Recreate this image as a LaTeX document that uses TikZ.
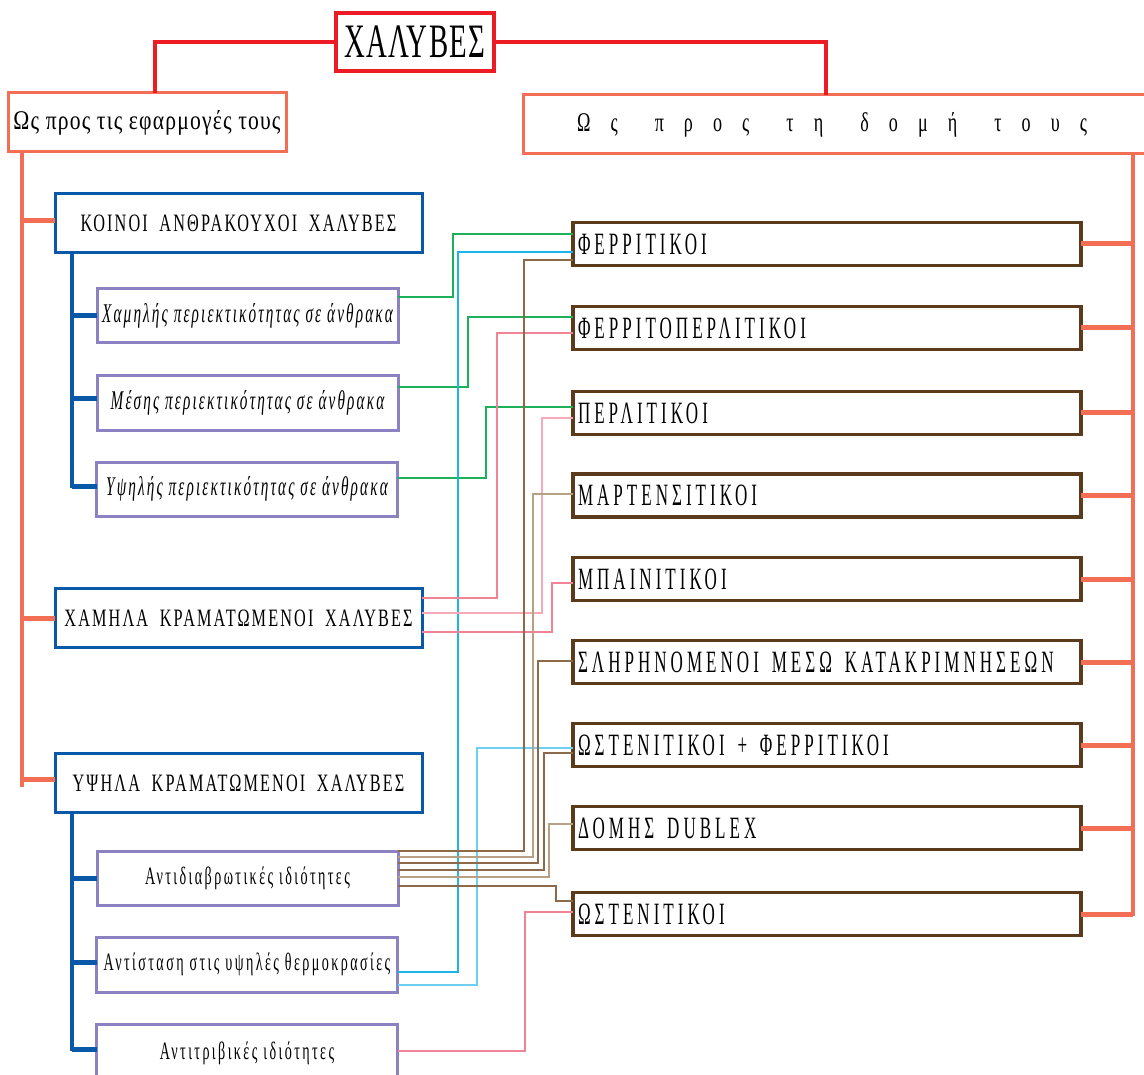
\documentclass[tikz,border=0pt]{standalone}
\usepackage{fontspec}
\setmainfont{Liberation Serif}
\usepackage{graphicx}
% size, horizontal scale, letter spacing, extra word gap (pt), text
\newcommand\tx[5]{\scalebox{#2}[1]{\fontsize{#1}{#1}\selectfont\addfontfeature{LetterSpace=#3}\def\g{\kern#4pt\ }#5}}
\newcommand\txi[5]{\scalebox{#2}[1]{\fontsize{#1}{#1}\selectfont\itshape\addfontfeature{LetterSpace=#3}\def\g{\kern#4pt\ }#5}}
\definecolor{redc}{HTML}{ED1C24}
\definecolor{salc}{HTML}{F26F55}
\definecolor{bluec}{HTML}{0A58A8}
\definecolor{purc}{HTML}{8C82C2}
\definecolor{brc}{HTML}{5C3A1C}
\definecolor{grn}{HTML}{1DB05A}
\definecolor{cya}{HTML}{1CB5EA}
\definecolor{cyl}{HTML}{6ECFF3}
\definecolor{pnk}{HTML}{F08494}
\definecolor{pnl}{HTML}{F6AAB8}
\definecolor{brn}{HTML}{8C6A4A}
\definecolor{tanc}{HTML}{B8A084}
\tikzset{
  base/.style={rectangle, inner sep=0pt, outer sep=0pt, fill=white},
  redbox/.style={base, draw=redc, line width=3.5pt},
  salbox/.style={base, draw=salc, line width=3pt},
  bluebox/.style={base, draw=bluec, line width=3pt, minimum width=367pt, minimum height=59pt},
  purbox/.style={base, draw=purc, line width=3pt, minimum width=301pt, minimum height=54pt},
  brbox/.style={base, draw=brc, line width=3.5pt,
    text width=498pt, align=left, inner xsep=5pt, minimum height=43pt},
  redline/.style={draw=redc, line width=4pt},
  salline/.style={draw=salc, line width=4pt, line cap=rect},
  salstub/.style={draw=salc, line width=5pt},
  blueline/.style={draw=bluec, line width=3.5pt, line cap=rect},
  bluestub/.style={draw=bluec, line width=5pt},
  conn/.style={line width=1.5pt},
}
\begin{document}
\begin{tikzpicture}[x=1pt,y=-1pt]
\useasboundingbox (0,0) rectangle (1144,1075);
\clip (0,0) rectangle (1144,1075);
% coordinates for bus lines
\coordinate (L) at (22,0);
\coordinate (R) at (1133,0);
\coordinate (B) at (72,0);
\coordinate (RT) at (826,0);
\coordinate (LT) at (155,0);
% top
\node[redbox, minimum width=158pt, minimum height=58pt] (root) at (415,42) {\tx{48}{0.6}{5}{0}{ΧΑΛΥΒΕΣ}};
\node[salbox, minimum width=278pt, minimum height=59pt] (app) at (147,122.5) {\tx{27}{0.8}{5.5}{0}{Ως προς τις εφαρμογές τους}};
\node[salbox, minimum height=59pt, text width=529pt, align=left, inner xsep=54pt] (str) at (841.5,124.5) {\tx{27}{0.67}{111}{52}{Ως\g προς\g τη\g δομή\g τους}};
% left column
\node[bluebox] (koi) at (238.5,223.5) {\tx{25}{0.65}{13}{8.5}{ΚΟΙΝΟΙ\g ΑΝΘΡΑΚΟΥΧΟΙ\g ΧΑΛΥΒΕΣ}};
\node[bluebox] (xam) at (238.5,618) {\tx{25}{0.65}{13}{8.5}{ΧΑΜΗΛΑ\g ΚΡΑΜΑΤΩΜΕΝΟΙ\g ΧΑΛΥΒΕΣ}};
\node[bluebox] (ysh) at (238.5,783) {\tx{25}{0.65}{13}{8.5}{ΥΨΗΛΑ\g ΚΡΑΜΑΤΩΜΕΝΟΙ\g ΧΑΛΥΒΕΣ}};
\node[purbox] (p1) at (247.5,316) {\txi{27}{0.565}{14}{0}{Χαμηλής περιεκτικότητας σε άνθρακα}};
\node[purbox] (p2) at (247.5,403) {\txi{27}{0.565}{14}{0}{Μέσης περιεκτικότητας σε άνθρακα}};
\node[purbox] (p3) at (247,489) {\txi{27}{0.565}{14}{0}{Υψηλής περιεκτικότητας σε άνθρακα}};
\node[purbox] (p4) at (247.5,878) {\tx{25}{0.565}{17}{0}{Αντιδιαβρωτικές ιδιότητες}};
\node[purbox, minimum height=55pt] (p5) at (247,964.5) {\tx{25}{0.565}{17}{0}{Αντίσταση στις υψηλές θερμοκρασίες}};
\node[purbox, minimum height=58pt] (p6) at (247,1053) {\tx{25}{0.565}{17}{0}{Αντιτριβικές ιδιότητες}};
% right column
\node[brbox] (fer) at (827,244) {\tx{31}{0.55}{23.5}{20}{ΦΕΡΡΙΤΙΚΟΙ}};
\node[brbox] (ferp) at (827,328) {\tx{31}{0.55}{23.5}{20}{ΦΕΡΡΙΤΟΠΕΡΛΙΤΙΚΟΙ}};
\node[brbox] (per) at (827,413) {\tx{31}{0.55}{23.5}{20}{ΠΕΡΛΙΤΙΚΟΙ}};
\node[brbox] (mar) at (827,495.5) {\tx{31}{0.55}{23.5}{20}{ΜΑΡΤΕΝΣΙΤΙΚΟΙ}};
\node[brbox] (mpa) at (827,579) {\tx{31}{0.55}{23.5}{20}{ΜΠΑΙΝΙΤΙΚΟΙ}};
\node[brbox] (sli) at (827,662) {\tx{31}{0.55}{23.5}{20}{ΣΛΗΡΗΝΟΜΕΝΟΙ\g ΜΕΣΩ\g ΚΑΤΑΚΡΙΜΝΗΣΕΩΝ}};
\node[brbox] (ostf) at (827,745) {\tx{31}{0.55}{23.5}{20}{ΩΣΤΕΝΙΤΙΚΟΙ\g +\g ΦΕΡΡΙΤΙΚΟΙ}};
\node[brbox] (dub) at (827,828) {\tx{31}{0.55}{23.5}{20}{ΔΟΜΗΣ\g DUBLEX}};
\node[brbox] (ost) at (827,914) {\tx{31}{0.55}{23.5}{20}{ΩΣΤΕΝΙΤΙΚΟΙ}};
% red connectors
\draw[redline] (root.west) -| (LT |- app.north);
\draw[redline] (root.east) -| (RT |- str.north);
% left orange bus
\draw[salline] (app.south -| L) -- ([yshift=-2pt]ysh.west -| L);
\draw[salstub] ([yshift=3pt]koi.west) -- ([yshift=3pt]koi.west -| L);
\draw[salstub] (xam.west) -- (xam.west -| L);
\draw[salstub] ([yshift=4pt]ysh.west) -- ([yshift=4pt]ysh.west -| L);
% right orange bus
\draw[salline] (str.south -| R) -- (ost.east -| R);
\foreach \n in {fer,ferp,per,mar,mpa,sli,ostf,dub,ost}
  \draw[salstub] (\n.east) -- (\n.east -| R);
% blue buses
\draw[blueline] (koi.south -| B) -- ([yshift=3pt]p3.west -| B);
\draw[bluestub] (p1.west) -- (p1.west -| B);
\draw[bluestub] ([yshift=4pt]p2.west) -- ([yshift=4pt]p2.west -| B);
\draw[bluestub] ([yshift=3pt]p3.west) -- ([yshift=3pt]p3.west -| B);
\draw[blueline] (ysh.south -| B) -- ([yshift=4pt]p6.west -| B);
\draw[bluestub] (p4.west) -- (p4.west -| B);
\draw[bluestub] ([yshift=2pt]p5.west) -- ([yshift=2pt]p5.west -| B);
\draw[bluestub] ([yshift=4pt]p6.west) -- ([yshift=4pt]p6.west -| B);
% green connectors
\draw[conn, grn] (p1.east |- 0,297) -| (453,234) -- (fer.west |- 0,234);
\draw[conn, grn] (p2.east |- 0,387) -| (468,317) -- (ferp.west |- 0,317);
\draw[conn, grn] (p3.east |- 0,478) -| (486,407) -- (per.west |- 0,407);
% cyan connectors
\draw[conn, cya] (p5.east |- 0,972) -| (458,252) -- (fer.west |- 0,252);
\draw[conn, cyl] (p5.east |- 0,985) -| (477,748) -- (ostf.west |- 0,748);
% pink connectors
\draw[conn, pnk] (xam.east |- 0,598) -| (497,333) -- (ferp.west |- 0,333);
\draw[conn, pnl] (xam.east |- 0,613) -| (542,418) -- (per.west |- 0,418);
\draw[conn, pnk] (xam.east |- 0,632) -| (552,583) -- (mpa.west |- 0,583);
\draw[conn, pnk] (p6.east |- 0,1051) -| (525,912) -- (ost.west |- 0,912);
% brown connectors
\draw[conn, brn] (p4.east |- 0,851) -| (524,260) -- (fer.west |- 0,260);
\draw[conn, tanc] (p4.east |- 0,857) -| (533,494) -- (mar.west |- 0,494);
\draw[conn, brn] (p4.east |- 0,863) -| (538,661) -- (sli.west |- 0,661);
\draw[conn, brn] (p4.east |- 0,870) -| (544,753) -- (ostf.west |- 0,753);
\draw[conn, tanc] (p4.east |- 0,877) -| (549,824) -- (dub.west |- 0,824);
\draw[conn, brn] (p4.east |- 0,886) -| (556,901) -- (ost.west |- 0,901);
\end{tikzpicture}
\end{document}
